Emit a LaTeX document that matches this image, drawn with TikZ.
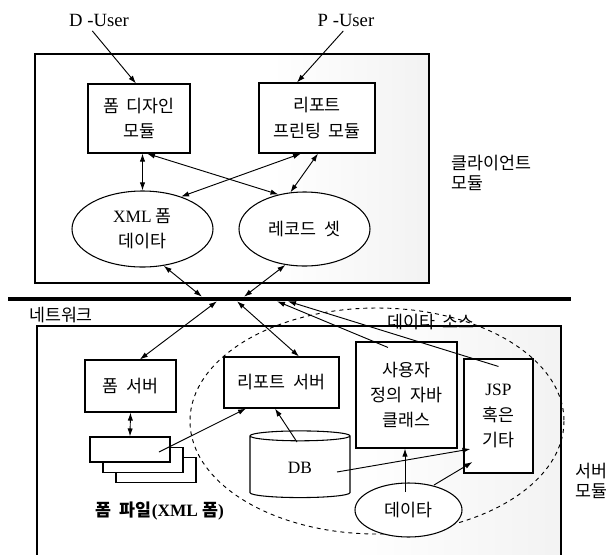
\documentclass[tikz,border=0pt]{standalone}
\usepackage{fontspec}
\setmainfont{Liberation Serif}
\newfontfamily\kr[WordSpace=2]{Noto Sans CJK KR}
\usetikzlibrary{arrows.meta,shapes.geometric}
\pgfdeclarehorizontalshading{stipple}{100bp}{color(0bp)=(white); color(55bp)=(white); color(100bp)=(gray!22)}
\begin{document}
\begin{tikzpicture}[x=0.75pt,y=-0.75pt,
		font=\fontsize{13}{19}\selectfont,
		box/.style={draw, fill=white, line width=0.8pt, align=center, inner sep=1pt},
		oval/.style={ellipse, draw, fill=white, line width=0.8pt, align=center, inner sep=0pt},
		area/.style={draw, line width=0.8pt, shading=stipple},
		side/.style={anchor=west, align=left, font=\fontsize{13}{15}\selectfont},
		arr/.style={line width=0.7pt, -{Latex[length=6pt,width=4pt]}},
		darr/.style={line width=0.7pt, {Latex[length=6pt,width=4pt]}-{Latex[length=6pt,width=4pt]}}]

		\clip (0,0) rectangle (607,554);

		\draw[area] (35,54) rectangle (429,283);
		\draw[area] (37,326) rectangle (561,570);
		\node[fill=black, minimum width=422.25pt, minimum height=3pt, inner sep=0pt] (net) at (289.5,299) {};
		\draw[dashed, line width=0.7pt] (377,421) ellipse [x radius=187, y radius=113];

		\node[font=\fontsize{14}{16}\selectfont] (duser) at (99,20) {D -User};
		\node[font=\fontsize{14}{16}\selectfont] (puser) at (346,20) {P -User};
		\node[box, minimum width=76.5pt, minimum height=51.75pt] (fd) at (139,118.5) {\kr 폼 디자인\\\kr 모듈};
		\node[box, minimum width=87pt, minimum height=52.5pt] (rp) at (317,118) {\kr 리포트\\\kr 프린팅 모듈};
		\node[oval, minimum width=105.75pt, minimum height=57pt] (xml) at (142.5,229) {XML {\kr 폼}\\\kr 데이타};
		\node[oval, minimum width=98.25pt, minimum height=55.5pt] (rec) at (304.5,229) {\kr 레코드 셋};
		\node[side] (client) at (447,173) {\kr 클라이언트\\\kr 모듈};
		\node (netlabel) at (61,315) {\kr 네트워크};

		\node[box, minimum width=68.25pt, minimum height=39pt] (fs) at (130.5,386) {\kr 폼 서버};
		\node[box, minimum width=60pt, minimum height=18.75pt] (ff3) at (156,470) {};
		\node[box, minimum width=60pt, minimum height=18.75pt] (ff2) at (143,460) {};
		\node[box, minimum width=60pt, minimum height=18.75pt] (ff1) at (130,449.5) {};
		\node[font=\fontsize{13}{19}\selectfont\bfseries] (fflabel) at (160,511) {{\kr 폼 파일}(XML {\kr 폼})};
		\node (srclabel) at (431,322) {\kr 데이타 소스};
		\node[box, minimum width=86.25pt, minimum height=38.25pt] (rs) at (281.5,382.5) {\kr 리포트 서버};
		\node[box, minimum width=75.75pt, minimum height=79.5pt] (java) at (406.5,395) {\kr 사용자\\\kr 정의 자바\\\kr 클래스};
		\node[box, minimum width=51.75pt, minimum height=85.5pt] (jsp) at (498.5,416) {JSP\\\kr 혹은\\\kr 기타};
		\node[cylinder, shape border rotate=90, aspect=0.3, draw, fill=white, line width=0.8pt, minimum width=75pt, minimum height=50pt] (db) at (300,468) {DB};
		\node[oval, minimum width=80.25pt, minimum height=40.5pt] (data) at (408.5,510) {\kr 데이타};
		\node[side] (server) at (571,481) {\kr 서버\\\kr 모듈};

		\draw[arr] ([xshift=-5pt]duser.south) -- (136,0 |- fd.north);
		\draw[arr] ([xshift=-2pt]puser.south) -- (297,0 |- rp.north);
		\draw[darr] (fd.south -| xml.north) -- (xml.north);
		\draw[darr] (147,0 |- fd.south) -- (rec.127);
		\draw[darr] (301,0 |- rp.south) -- (xml.40);
		\draw[darr] (318,0 |- rp.south) -- (rec.111);
		\draw[darr] (xml.-60) -- (202,0 |- net.north);
		\draw[darr] (rec.-118) -- (244,0 |- net.north);

		\draw[darr] ([xshift=7pt]fs.north) -- (217,0 |- net.south);
		\draw[darr] (299,0 |- rs.north) -- (237,0 |- net.south);
		\draw[arr] ([shift={(-18.5,6)}]java.north) -- (277,0 |- net.south);
		\draw[arr] ([shift={(0,8)}]jsp.north) -- (288,0 |- net.south);
		\draw[darr] (fs.south) -- (ff1.north);
		\draw[arr] ([shift={(29,2.5)}]ff1.center) -- (246,0 |- rs.south);
		\draw[arr] ([shift={(-3,-26)}]db.center) -- (275,0 |- rs.south);
		\draw[arr] ([shift={(37,4)}]db.center) -- ([shift={(7,33)}]jsp.west);
		\draw[arr] ([shift={(-3.5,-18)}]data.center) -- (405,0 |- java.south);
		\draw[arr] ([shift={(25.5,-25)}]data.center) -- ([shift={(9,46)}]jsp.west);
	\end{tikzpicture}
\end{document}
